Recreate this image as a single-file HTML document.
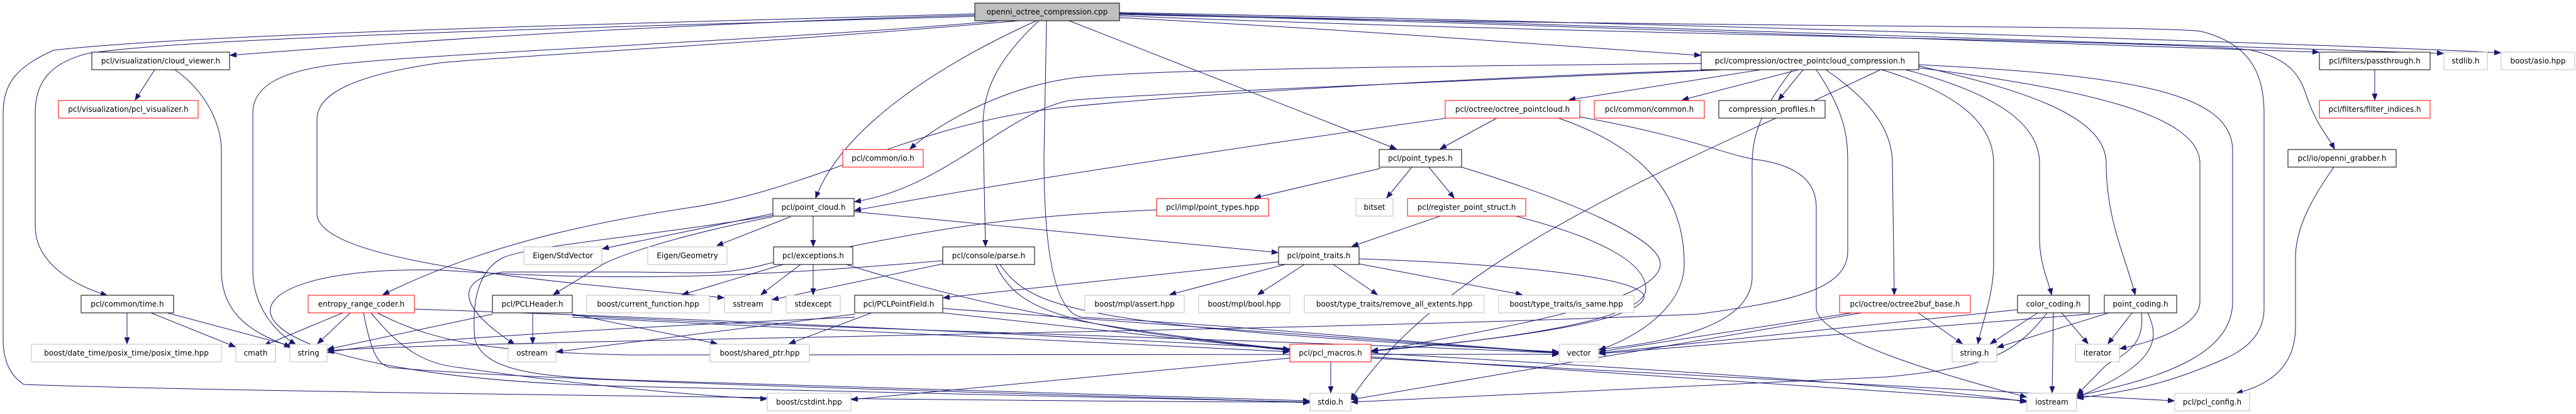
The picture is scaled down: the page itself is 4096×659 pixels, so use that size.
<!DOCTYPE html>
<html><head><meta charset="utf-8">
<style>
html,body{margin:0;padding:0;background:#fff;}
svg{display:block;}
text{font-family:"DejaVu Sans","Liberation Sans",sans-serif;font-size:12px;fill:#000;}
.e{fill:none;stroke:#191970;stroke-width:1;marker-end:url(#a);}
.n{fill:#fff;stroke:#000;stroke-width:1;}
.r{fill:#fff;stroke:#ff0000;stroke-width:1;}
.g{fill:#fff;stroke:#bfbfbf;stroke-width:1;}
</style></head>
<body>
<svg width="4096" height="659" viewBox="0 0 4096 659" xmlns="http://www.w3.org/2000/svg">
<defs>
<marker id="a" markerUnits="userSpaceOnUse" markerWidth="11" markerHeight="9" refX="10" refY="4" orient="auto">
<path d="M0,0 L10,4 L0,8 z" fill="#191970" stroke="#191970"/>
</marker>
</defs>

<!-- cloud_viewer -->
<path class="e" d="M246,111 L215,159"/>
<path class="e" d="M278,111 C320,140 352,190 352,240 L352,430 C352,500 400,530 462,552"/>

<!-- edges from cpp -->
<path class="e" d="M1550,24 C1000,40 600,70 366,88"/>
<path class="e" d="M1550,26 C900,45 300,60 140,85 C80,100 56,130 56,180 L56,360 C56,420 120,455 170,470"/>
<path class="e" d="M1550,22 C900,40 300,55 85,80 C30,105 5,130 5,180 L5,540 C5,580 20,600 38,612 C400,625 1700,640 2082,640"/>
<path class="e" d="M1590,33 C1300,60 700,85 560,100 C440,110 402,140 402,180 L402,430 C402,490 440,530 470,548"/>
<path class="e" d="M1620,33 C1200,70 800,90 700,100 C560,120 504,150 504,190 L504,340 C504,420 900,450 1151,474"/>
<path class="e" d="M1648,33 C1500,100 1340,200 1297,315"/>
<path class="e" d="M1652,33 C1580,100 1563,150 1563,200 L1567,392"/>
<path class="e" d="M1664,33 L1660,250 C1660,450 1690,500 1720,505 C2000,520 2300,550 2478,561"/>
<path class="e" d="M1700,33 L2220,237"/>
<path class="e" d="M1780,28 C2200,50 2500,75 2704,88"/>
<path class="e" d="M1780,22 C2500,40 3400,70 3687,83"/>
<path class="e" d="M1780,21 C2600,40 3600,70 3885,85"/>
<path class="e" d="M1780,20 C2600,35 3700,70 3976,84"/>
<path class="e" d="M1780,25 C2500,55 3500,65 3580,80 C3650,95 3660,130 3670,160 C3685,200 3700,215 3712,237"/>
<path class="e" d="M1780,23 C2700,45 3450,40 3500,50 C3580,70 3600,120 3600,180 L3600,490 C3600,540 3560,560 3540,570 C3450,610 3400,620 3303,634"/>
<path class="e" d="M3711,266 C3680,310 3650,360 3650,410 L3650,520 C3650,590 3600,615 3556,626"/>
<path class="e" d="M3776,111 L3776,159"/>

<!-- compression.h -->
<path class="e" d="M2705,101 C2300,105 1800,110 1700,125 C1600,140 1500,190 1447,237"/>
<path class="e" d="M2740,111 C2300,130 1800,150 1700,160 C1600,180 1500,300 1359,321"/>
<path class="e" d="M2800,111 L2495,159"/>
<path class="e" d="M2860,111 L2675,159"/>
<path class="e" d="M2867,111 L2828,159"/>
<path class="e" d="M2731,111 C2300,125 1900,150 1700,170 C1450,195 1300,300 1100,330 C900,360 750,400 609,469"/>
<path class="e" d="M2888,111 C2935,180 2938,220 2938,260 L2938,400 C2938,460 2850,480 2700,500 C2000,530 800,540 521,558"/>
<path class="e" d="M2903,111 C2990,170 3009,220 3009,260 L3012,469"/>
<path class="e" d="M2992,111 C3120,150 3170,200 3170,260 L3170,420 C3170,470 3150,520 3145,547"/>
<path class="e" d="M3030,111 C3180,150 3243,200 3243,260 L3243,380 C3243,420 3258,450 3262,469"/>
<path class="e" d="M3051,105 C3200,140 3349,180 3349,260 C3349,350 3380,410 3395,469"/>
<path class="e" d="M3051,108 C3300,140 3498,180 3498,260 L3498,480 C3498,520 3420,545 3371,555"/>
<path class="e" d="M3051,103 C3400,120 3550,150 3550,240 L3550,480 C3550,560 3450,600 3303,630"/>
<path class="e" d="M2850,111 C2780,200 2786,240 2786,290 L2786,440 C2786,520 2650,545 2543,556"/>
<path class="e" d="M2990,111 C2700,250 2300,400 2148,636"/>

<!-- octree_pointcloud -->
<path class="e" d="M2512,186 C2700,220 2750,250 2800,255 C2860,265 2888,290 2888,330 L2888,490 C2888,540 3100,600 3222,632"/>
<path class="e" d="M2380,188 L2290,237"/>
<path class="e" d="M2300,188 C2000,230 1600,290 1359,335"/>
<path class="e" d="M2478,188 C2600,230 2678,300 2678,420 C2678,480 2620,530 2543,557"/>

<!-- point_types -->
<path class="e" d="M2245,266 L2205,315"/>
<path class="e" d="M2272,266 L2312,315"/>
<path class="e" d="M2195,268 L1995,315"/>
<path class="e" d="M2324,266 C2500,320 2640,380 2640,420 C2640,480 2400,520 2181,560"/>
<!-- register_point_struct -->
<path class="e" d="M2290,344 L2150,392"/>
<path class="e" d="M2410,344 C2550,380 2617,420 2617,460 C2617,510 2400,540 2181,559"/>
<!-- impl/point_types.hpp -->
<path class="e" d="M1839,334 C1600,345 1500,360 1220,420 C1150,440 1100,433 1000,433 L800,433 C750,440 700,470 818,548"/>

<!-- point_cloud -->
<path class="e" d="M1293,344 L1293,392"/>
<path class="e" d="M1229,340 L958,396"/>
<path class="e" d="M1257,345 L1140,391"/>
<path class="e" d="M1229,345 C1100,370 1000,400 960,420 L880,469"/>
<path class="e" d="M1358,337 C1600,360 1900,390 2032,402"/>
<path class="e" d="M1229,343 C1000,380 850,390 800,410 C760,430 750,480 755,540 C770,590 850,600 1000,605 L2082,638"/>
<!-- exceptions -->
<path class="e" d="M1245,421 L1085,469"/>
<path class="e" d="M1273,421 L1210,469"/>
<path class="e" d="M1293,421 L1293,469"/>
<path class="e" d="M1346,421 C1500,470 1700,520 2050,556"/>
<!-- console/parse -->
<path class="e" d="M1499,420 L1228,477"/>
<path class="e" d="M1583,421 C1620,500 1700,520 2050,557"/>
<path class="e" d="M1590,421 C1640,490 1700,520 2478,560"/>
<path class="e" d="M1499,415 C1200,440 1000,450 700,430 C300,420 300,600 1000,615 L2082,640"/>
<!-- point_traits -->
<path class="e" d="M2040,416 L1500,474"/>
<path class="e" d="M2043,421 L1860,469"/>
<path class="e" d="M2074,421 L2000,469"/>
<path class="e" d="M2120,421 L2190,469"/>
<path class="e" d="M2161,420 L2420,469"/>
<path class="e" d="M2161,412 C2400,420 2600,440 2614,470 C2620,510 2400,540 2181,558"/>
<!-- PCLHeader -->
<path class="e" d="M847,498 L847,547"/>
<path class="e" d="M910,500 L1140,547"/>
<path class="e" d="M783,500 L521,556"/>
<path class="e" d="M910,502 C1200,520 2000,540 2478,562"/>
<path class="e" d="M910,505 C1300,525 1800,545 2050,560"/>
<!-- PCLPointField -->
<path class="e" d="M1359,500 L885,560"/>
<path class="e" d="M1386,498 L1255,547"/>
<path class="e" d="M1359,505 C1000,520 600,545 521,561"/>
<path class="e" d="M1499,491 L2478,562"/>
<path class="e" d="M1499,498 L2050,558"/>
<!-- time.h -->
<path class="e" d="M202,498 L202,547"/>
<path class="e" d="M240,498 L374,552"/>
<path class="e" d="M266,498 L468,552"/>
<!-- entropy -->
<path class="e" d="M545,498 L420,550"/>
<path class="e" d="M557,498 L505,547"/>
<path class="e" d="M578,498 C590,560 600,580 620,585 C900,610 1800,630 2082,641"/>
<path class="e" d="M590,498 C640,560 680,580 730,585 C900,610 1100,630 1219,635"/>
<path class="e" d="M600,498 C700,550 800,560 1000,565 L2478,564"/>
<path class="e" d="M659,492 C1500,520 3000,600 3222,640"/>
<!-- pcl_macros -->
<path class="e" d="M2116,576 L2116,625"/>
<path class="e" d="M2051,570 L1354,636"/>
<path class="e" d="M2180,568 L3222,638"/>
<path class="e" d="M2180,570 L3457,638"/>
<!-- octree2buf_base -->
<path class="e" d="M3050,498 L3120,547"/>
<path class="e" d="M2945,498 L2543,560"/>
<path class="e" d="M2960,498 L2149,636"/>
<!-- color_coding -->
<path class="e" d="M3240,498 L3165,547"/>
<path class="e" d="M3278,498 L3320,547"/>
<path class="e" d="M3265,498 L3263,625"/>
<path class="e" d="M3208,493 L2543,562"/>
<path class="e" d="M3255,498 C3200,570 3150,585 3000,600 L2149,640"/>
<!-- point_coding -->
<path class="e" d="M3353,498 L3176,553"/>
<path class="e" d="M3390,498 L3352,547"/>
<path class="e" d="M3405,498 C3410,540 3390,560 3350,580 L3303,628"/>
<path class="e" d="M3415,498 C3435,540 3430,580 3303,632"/>
<path class="e" d="M3346,498 L2543,563"/>

<!-- nodes -->
<rect x="1550" y="5" width="230" height="28" fill="#bfbfbf" stroke="#000"/>
<text x="1665" y="23" text-anchor="middle">openni_octree_compression.cpp</text>

<rect class="n" x="146" y="83" width="219" height="28"/><text x="255.5" y="101" text-anchor="middle">pcl/visualization/cloud_viewer.h</text>
<rect class="r" x="93" y="160" width="222" height="28"/><text x="204" y="178" text-anchor="middle">pcl/visualization/pcl_visualizer.h</text>
<rect class="n" x="129" y="470" width="147" height="28"/><text x="202.5" y="488" text-anchor="middle">pcl/common/time.h</text>
<rect class="r" x="490" y="470" width="169" height="28"/><text x="574.5" y="488" text-anchor="middle">entropy_range_coder.h</text>
<rect class="g" x="50" y="548" width="302" height="28"/><text x="201" y="566" text-anchor="middle">boost/date_time/posix_time/posix_time.hpp</text>
<rect class="g" x="375" y="548" width="63" height="28"/><text x="406.5" y="566" text-anchor="middle">cmath</text>
<rect class="g" x="461" y="548" width="59" height="28"/><text x="490.5" y="566" text-anchor="middle">string</text>

<rect class="r" x="1340" y="238" width="128" height="28"/><text x="1404" y="256" text-anchor="middle">pcl/common/io.h</text>
<rect class="n" x="1229" y="316" width="129" height="28"/><text x="1293.5" y="334" text-anchor="middle">pcl/point_cloud.h</text>
<rect class="g" x="833" y="393" width="124" height="28"/><text x="895" y="411" text-anchor="middle">Eigen/StdVector</text>
<rect class="g" x="1030" y="393" width="126" height="28"/><text x="1093" y="411" text-anchor="middle">Eigen/Geometry</text>
<rect class="n" x="1230" y="393" width="126" height="28"/><text x="1293" y="411" text-anchor="middle">pcl/exceptions.h</text>
<rect class="n" x="783" y="470" width="127" height="28"/><text x="846.5" y="488" text-anchor="middle">pcl/PCLHeader.h</text>
<rect class="g" x="933" y="470" width="195" height="28"/><text x="1030.5" y="488" text-anchor="middle">boost/current_function.hpp</text>
<rect class="g" x="1152" y="470" width="75" height="28"/><text x="1189.5" y="488" text-anchor="middle">sstream</text>
<rect class="g" x="1250" y="470" width="86" height="28"/><text x="1293" y="488" text-anchor="middle">stdexcept</text>
<rect class="n" x="1359" y="470" width="140" height="28"/><text x="1429" y="488" text-anchor="middle">pcl/PCLPointField.h</text>
<rect class="g" x="808" y="548" width="76" height="28"/><text x="846" y="566" text-anchor="middle">ostream</text>
<rect class="g" x="1129" y="548" width="158" height="28"/><text x="1208" y="566" text-anchor="middle">boost/shared_ptr.hpp</text>
<rect class="g" x="1220" y="626" width="133" height="28"/><text x="1286.5" y="644" text-anchor="middle">boost/cstdint.hpp</text>

<rect class="n" x="1499" y="393" width="146" height="28"/><text x="1572" y="411" text-anchor="middle">pcl/console/parse.h</text>
<rect class="r" x="1839" y="316" width="178" height="28"/><text x="1928" y="334" text-anchor="middle">pcl/impl/point_types.hpp</text>
<rect class="n" x="2033" y="393" width="128" height="28"/><text x="2097" y="411" text-anchor="middle">pcl/point_traits.h</text>
<rect class="g" x="1725" y="470" width="158" height="28"/><text x="1804" y="488" text-anchor="middle">boost/mpl/assert.hpp</text>
<rect class="g" x="1906" y="470" width="145" height="28"/><text x="1978.5" y="488" text-anchor="middle">boost/mpl/bool.hpp</text>
<rect class="g" x="2074" y="470" width="286" height="28"/><text x="2217" y="488" text-anchor="middle">boost/type_traits/remove_all_extents.hpp</text>
<rect class="r" x="2051" y="548" width="129" height="28"/><text x="2115.5" y="566" text-anchor="middle">pcl/pcl_macros.h</text>
<rect class="g" x="2083" y="626" width="65" height="28"/><text x="2115.5" y="644" text-anchor="middle">stdio.h</text>

<rect class="n" x="2705" y="83" width="346" height="28"/><text x="2878" y="101" text-anchor="middle">pcl/compression/octree_pointcloud_compression.h</text>
<rect class="r" x="2298" y="160" width="214" height="28"/><text x="2405" y="178" text-anchor="middle">pcl/octree/octree_pointcloud.h</text>
<rect class="r" x="2535" y="160" width="175" height="28"/><text x="2622.5" y="178" text-anchor="middle">pcl/common/common.h</text>
<rect class="n" x="2733" y="160" width="169" height="28"/><text x="2817.5" y="178" text-anchor="middle">compression_profiles.h</text>
<rect class="n" x="2193" y="238" width="131" height="28"/><text x="2258.5" y="256" text-anchor="middle">pcl/point_types.h</text>
<rect class="g" x="2156" y="316" width="59" height="28"/><text x="2185.5" y="334" text-anchor="middle">bitset</text>
<rect class="r" x="2238" y="316" width="188" height="28"/><text x="2332" y="334" text-anchor="middle">pcl/register_point_struct.h</text>
<rect class="g" x="2383" y="470" width="215" height="28"/><text x="2490.5" y="488" text-anchor="middle">boost/type_traits/is_same.hpp</text>
<rect class="g" x="2479" y="548" width="63" height="28"/><text x="2510.5" y="566" text-anchor="middle">vector</text>

<rect class="r" x="2925" y="470" width="208" height="28"/><text x="3029" y="488" text-anchor="middle">pcl/octree/octree2buf_base.h</text>
<rect class="n" x="3208" y="470" width="114" height="28"/><text x="3265" y="488" text-anchor="middle">color_coding.h</text>
<rect class="n" x="3346" y="470" width="115" height="28"/><text x="3403.5" y="488" text-anchor="middle">point_coding.h</text>
<rect class="g" x="3104" y="548" width="71" height="28"/><text x="3139.5" y="566" text-anchor="middle">string.h</text>
<rect class="g" x="3300" y="548" width="70" height="28"/><text x="3335" y="566" text-anchor="middle">iterator</text>
<rect class="g" x="3223" y="626" width="79" height="28"/><text x="3262.5" y="644" text-anchor="middle">iostream</text>
<rect class="g" x="3458" y="626" width="119" height="28"/><text x="3517.5" y="644" text-anchor="middle">pcl/pcl_config.h</text>

<rect class="n" x="3688" y="83" width="176" height="28"/><text x="3776" y="101" text-anchor="middle">pcl/filters/passthrough.h</text>
<rect class="g" x="3886" y="83" width="69" height="28"/><text x="3920.5" y="101" text-anchor="middle">stdlib.h</text>
<rect class="g" x="3977" y="83" width="117" height="28"/><text x="4035.5" y="101" text-anchor="middle">boost/asio.hpp</text>
<rect class="r" x="3688" y="160" width="176" height="28"/><text x="3776" y="178" text-anchor="middle">pcl/filters/filter_indices.h</text>
<rect class="n" x="3638" y="238" width="172" height="28"/><text x="3724" y="256" text-anchor="middle">pcl/io/openni_grabber.h</text>
</svg>
</body></html>
